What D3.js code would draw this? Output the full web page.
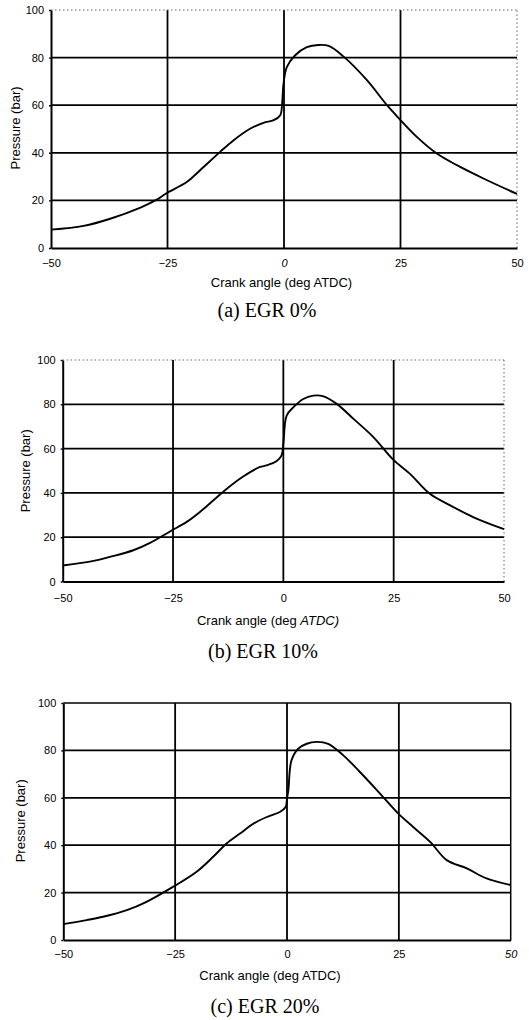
<!DOCTYPE html>
<html><head><meta charset="utf-8">
<script src="https://cdn.jsdelivr.net/npm/d3@7"></script>
<style>
body{margin:0;background:#fff;}
svg{display:block;}
.tick text{font-family:"Liberation Sans",Arial,sans-serif;font-size:11px;fill:#000;}
</style></head>
<body><svg id="c" width="529" height="1020"></svg>
<script>
// ---- data ----
const xTicks = [-50, -25, 0, 25, 50];
const yTicks = [0, 20, 40, 60, 80, 100];
const captions = ["(a) EGR 0%", "(b) EGR 10%", "(c) EGR 20%"];
const xTitle = "Crank angle (deg ATDC)";
const yTitle = "Pressure (bar)";

const angleA = [-50,-43,-37.3,-30.8,-27.3,-25.3,-20.8,-18,-13.7,-10.8,-7.2,-4.4,-2.2,-0.8,-0.4,-0.1,0.6,2.4,4.9,7.4,9.6,12.8,17.8,22.1,24.7,28.5,32.8,37.1,42.8,50];
const pressA = [7.7,9.3,12.3,17,20.3,22.9,27.8,32.7,40.4,45.3,50.2,52.6,53.7,55.8,60.7,69,76,81,84.4,85.3,84.9,80.4,70.5,60,54.4,46.7,39.7,34.8,29.2,22.7];

const angleB = [-50,-43,-39.3,-34,-30.2,-25.5,-21.9,-18.9,-15.9,-12.8,-9.1,-5.3,-3.8,-1.5,-0.4,0,0.75,2.3,4.5,6.8,9.1,12.1,15.9,20.4,24.9,28.7,33.2,37.8,43,50];
const pressB = [7.2,9.3,11.1,14.1,17.4,22.8,26.9,31.4,36.6,41.9,47.4,51.7,52.4,54.4,56.9,62.2,74.9,78.7,82.4,83.9,83.6,80.2,73.4,65.2,55,48.6,39.6,34.4,29.1,23.6];

const angleC = [-50,-44.8,-41.1,-35.8,-31.4,-25.4,-20.2,-16.5,-13.5,-10.5,-7.5,-4.5,-1.6,-0.3,0,0.3,1,2.5,4.4,6.6,9.2,12.6,16.3,20.8,24.9,28.2,32,35.7,40.2,44.6,50];
const pressC = [6.7,8.4,9.8,12.6,16.1,22.5,28.8,35.1,40.7,44.9,49.1,51.9,54,56.1,59.6,63.2,75.8,80.7,82.8,83.6,82.8,77.9,70.9,61.8,53.3,47.7,41.4,33.7,30.2,26,23.2];

// ---- layout (per panel) ----
const panels = [
  {L:51, R:517, T:10, B:248, angles:angleA, press:pressA, tickY:266.7, titleY:286.7, titleX:281.5, capY:316.7, capX:267, ylx:19.5, yly:128, dotted:true, italicTick:0, italicTitle:false},
  {L:62.7, R:504, T:360, B:581.5, angles:angleB, press:pressB, tickY:602.3, titleY:625, titleX:268, capY:658, capX:263, ylx:29.5, yly:470.8, dotted:true, italicTick:null, italicTitle:true},
  {L:63.3, R:510.7, T:703, B:940, angles:angleC, press:pressC, tickY:957.5, titleY:980.3, titleX:270, capY:1013, capX:265, ylx:24.5, yly:820.8, dotted:false, italicTick:50, italicTitle:false}
];

const svg = d3.select("#c");

panels.forEach((p, i) => {
  const x = d3.scaleLinear().domain([-50, 50]).range([p.L, p.R]);
  const y = d3.scaleLinear().domain([0, 100]).range([p.B, p.T]);
  const g = svg.append("g");

  // interior grid lines
  g.selectAll("line.gx").data(xTicks.filter(v => v > -50 && v < 50)).join("line")
    .attr("x1", d => x(d)).attr("x2", d => x(d)).attr("y1", y(0)).attr("y2", y(100))
    .attr("stroke", "#000").attr("stroke-width", 1.8);
  g.selectAll("line.gy").data(yTicks.filter(v => v > 0 && v < 100)).join("line")
    .attr("x1", x(-50)).attr("x2", x(50)).attr("y1", d => y(d)).attr("y2", d => y(d))
    .attr("stroke", "#000").attr("stroke-width", 1.8);

  // top and right borders
  g.append("line").attr("x1", x(-50)).attr("x2", x(50)).attr("y1", y(100)).attr("y2", y(100))
    .attr("stroke", p.dotted ? "#666" : "#000").attr("stroke-width", p.dotted ? 1 : 1.5)
    .attr("stroke-dasharray", p.dotted ? "1.5,2.5" : null);
  g.append("line").attr("x1", x(50)).attr("x2", x(50)).attr("y1", y(0)).attr("y2", y(100))
    .attr("stroke", p.dotted ? "#666" : "#000").attr("stroke-width", p.dotted ? 1 : 1.5)
    .attr("stroke-dasharray", p.dotted ? "1.5,2.5" : null);

  // axes
  const ax = g.append("g").attr("transform", `translate(0,${p.B})`)
    .call(d3.axisBottom(x).tickValues(xTicks).tickFormat(d3.format("d")).tickSizeInner(0).tickSizeOuter(0));
  ax.select(".domain").attr("stroke", "#000").attr("stroke-width", 2);
  ax.selectAll(".tick line").remove();
  ax.selectAll(".tick text").attr("dy", null).attr("y", p.tickY - p.B)
    .style("font-style", d => d === p.italicTick ? "italic" : "normal");

  const ay = g.append("g").attr("transform", `translate(${p.L},0)`)
    .call(d3.axisLeft(y).tickValues(yTicks).tickSizeInner(2).tickSizeOuter(0).tickPadding(5));
  ay.select(".domain").attr("stroke", "#000").attr("stroke-width", 2);
  ay.selectAll(".tick line").attr("stroke", "#000").attr("stroke-width", 1.4);

  // curve
  const pts = p.angles.map((a, k) => [a, p.press[k]]);
  g.append("path").datum(pts)
    .attr("d", d3.line().x(d => x(d[0])).y(d => y(d[1])).curve(d3.curveCatmullRom.alpha(0.5)))
    .attr("fill", "none").attr("stroke", "#000").attr("stroke-width", 1.9);

  // x title
  const t = g.append("text").attr("x", p.titleX).attr("y", p.titleY).attr("text-anchor", "middle")
    .style("font-family", "'Liberation Sans',Arial,sans-serif").style("font-size", "13px");
  if (p.italicTitle) {
    t.append("tspan").text("Crank angle (deg ");
    t.append("tspan").style("font-style", "italic").text("ATDC)");
  } else t.text(xTitle);

  // y title
  g.append("text").attr("transform", `translate(${p.ylx},${p.yly}) rotate(-90)`)
    .attr("text-anchor", "middle")
    .style("font-family", "'Liberation Sans',Arial,sans-serif").style("font-size", "13px")
    .text(yTitle);

  // caption
  g.append("text").attr("x", p.capX).attr("y", p.capY).attr("text-anchor", "middle")
    .style("font-family", "'Liberation Serif','Times New Roman',serif").style("font-size", "20px")
    .text(captions[i]);
});
</script></body></html>
